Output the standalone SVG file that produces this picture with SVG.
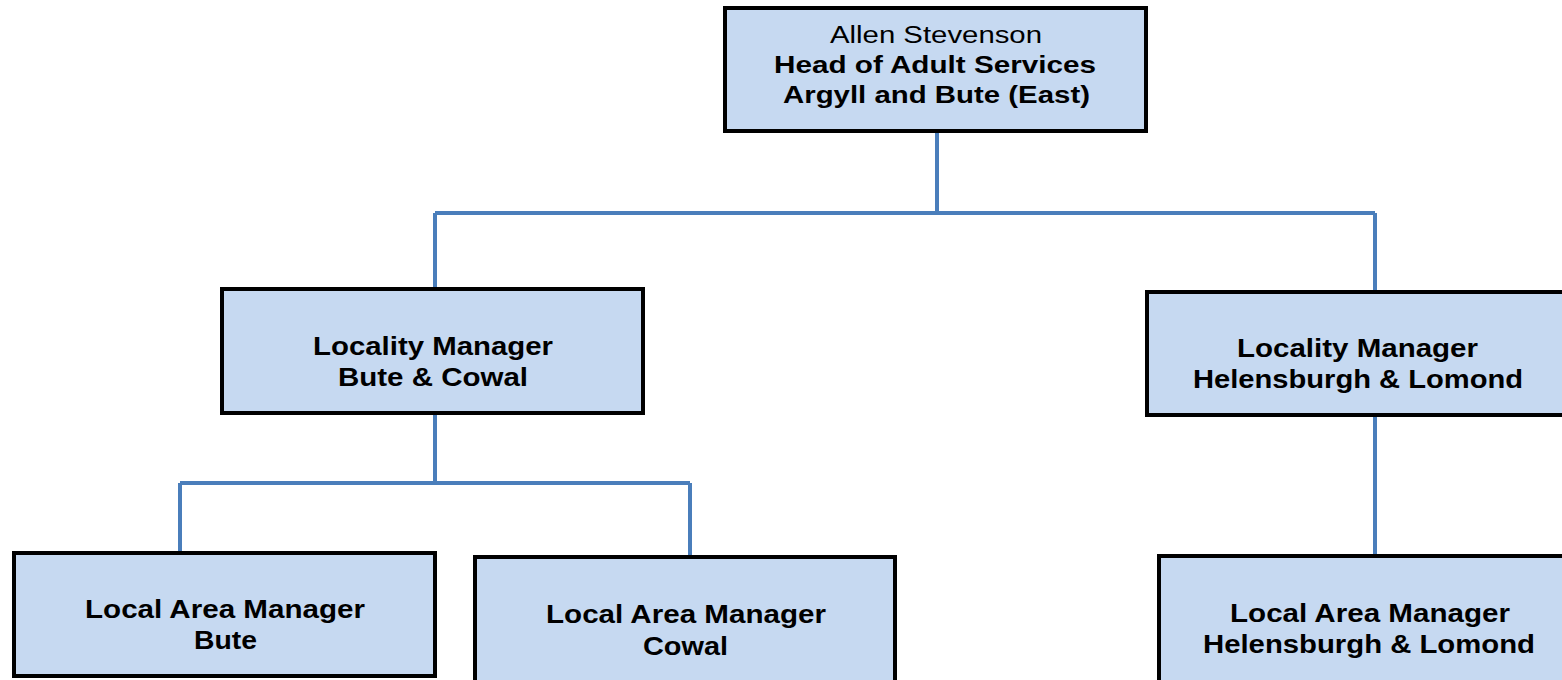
<svg xmlns="http://www.w3.org/2000/svg" width="1562" height="680" viewBox="0 0 1562 680">
<style>
.box{fill:#c6d9f1;stroke:#000;stroke-width:4}
.conn{fill:none;stroke:#4a7ebb;stroke-width:4}
text{font-family:"Liberation Sans",Arial,sans-serif;fill:#000;font-size:25px;font-weight:bold}
.n{font-weight:normal}
.t{font-size:23px}
</style>
<rect width="1562" height="680" fill="#fff"/>
<g id="connectors">
<path class="conn" d="M937,131V213M435,213H1375M435,213V289M1375,213V292"/>
<path class="conn" d="M435,413V483M180,483H690M180,483V553M690,483V557"/>
<path class="conn" d="M1375,415V556"/>
</g>
<g id="head">
<rect class="box" x="725" y="8" width="421" height="123"/>
<text class="t n" x="830" y="43" textLength="212" lengthAdjust="spacingAndGlyphs">Allen Stevenson</text>
<text class="t" x="774" y="73" textLength="322" lengthAdjust="spacingAndGlyphs">Head of Adult Services</text>
<text class="t" x="783" y="103" textLength="307" lengthAdjust="spacingAndGlyphs">Argyll and Bute (East)</text>
</g>
<g id="lm-bute-cowal">
<rect class="box" x="222" y="289" width="421" height="124"/>
<text x="313" y="355" textLength="240" lengthAdjust="spacingAndGlyphs">Locality Manager</text>
<text x="338" y="386" textLength="190" lengthAdjust="spacingAndGlyphs">Bute &amp; Cowal</text>
</g>
<g id="lm-helensburgh">
<rect class="box" x="1147" y="292" width="422" height="123"/>
<text x="1237" y="357" textLength="241" lengthAdjust="spacingAndGlyphs">Locality Manager</text>
<text x="1193" y="388" textLength="330" lengthAdjust="spacingAndGlyphs">Helensburgh &amp; Lomond</text>
</g>
<g id="lam-bute">
<rect class="box" x="14" y="553" width="421" height="123"/>
<text x="85" y="618" textLength="280" lengthAdjust="spacingAndGlyphs">Local Area Manager</text>
<text x="194" y="649" textLength="63" lengthAdjust="spacingAndGlyphs">Bute</text>
</g>
<g id="lam-cowal">
<rect class="box" x="475" y="557" width="420" height="130"/>
<text x="546" y="623" textLength="280" lengthAdjust="spacingAndGlyphs">Local Area Manager</text>
<text x="643" y="655" textLength="85" lengthAdjust="spacingAndGlyphs">Cowal</text>
</g>
<g id="lam-helensburgh">
<rect class="box" x="1159" y="556" width="410" height="130"/>
<text x="1230" y="622" textLength="280" lengthAdjust="spacingAndGlyphs">Local Area Manager</text>
<text x="1203" y="653" textLength="332" lengthAdjust="spacingAndGlyphs">Helensburgh &amp; Lomond</text>
</g>
</svg>
